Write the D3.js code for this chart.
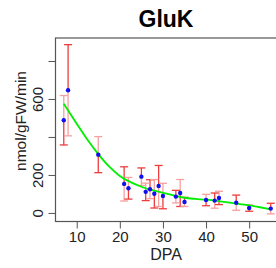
<!DOCTYPE html>
<html>
<head>
<meta charset="utf-8">
<script src="https://cdn.jsdelivr.net/npm/d3@7"></script>
<style>
  body { margin: 0; background: white; }
  svg { font-family: "Liberation Sans", Arial, sans-serif; }
</style>
</head>
<body>
<div id="chart"></div>
<script>
const width = 276;
const height = 268;

// DPA, mean activity and sd
const dpa = [7, 8, 15, 21, 22, 25, 26, 27, 28, 29, 30, 33, 34, 35, 40, 42, 43, 47, 50, 55];
const means = [488, 646, 307, 153, 130, 191, 111, 125, 101, 142, 89, 86, 105, 58, 68, 65, 79, 54, 26, 23];
const sds = [130, 240, 95, 90, 57, 46, 46, 50, 75, 108, 67, 33, 71, 24, 30, 40, 35, 40, 17, 28];

// fitted smooth curve
const fitX = [7, 10, 12.5, 15, 17.5, 20, 22.5, 25, 27.5, 30, 32.5, 35, 37.5, 40, 42.5, 45, 47.5, 50, 52.5, 55];
const fitY = [575, 470, 385, 310, 245, 195, 162, 138, 120, 106, 92, 80, 74, 70, 64, 56, 48, 40, 30, 19];

const xTicks = [10, 20, 30, 40, 50];
const yTicks = [0, 200, 400, 600, 800];
const yLabels = [0, 200, 600];

const x = d3.scaleLinear().domain([5.08, 56.92]).range([55.5, 279]);
const y = d3.scaleLinear().domain([-45, 921]).range([221.5, 38]);

const svg = d3.select("#chart").append("svg")
    .attr("width", width)
    .attr("height", height);

const axisColor = "#555";

// plot box
svg.append("rect")
    .attr("x", x.range()[0])
    .attr("y", y.range()[1])
    .attr("width", x.range()[1] - x.range()[0])
    .attr("height", y.range()[0] - y.range()[1])
    .attr("fill", "none")
    .attr("stroke", axisColor)
    .attr("stroke-width", 1.2);

// x axis
const xAxis = svg.append("g")
    .attr("transform", `translate(0, ${y.range()[0]})`)
    .call(d3.axisBottom(x).tickValues(xTicks).tickSize(7).tickPadding(3).tickSizeOuter(0));
xAxis.select(".domain").remove();
xAxis.selectAll("line").attr("stroke", axisColor);
xAxis.selectAll("text").style("font-size", "15px").attr("fill", "#222")
    .style("font-family", "Liberation Sans, Arial, sans-serif");

// y axis
const yAxis = svg.append("g")
    .attr("transform", `translate(${x.range()[0]}, 0)`)
    .call(d3.axisLeft(y).tickValues(yTicks).tickSize(7).tickFormat(d => yLabels.includes(d) ? d : ""));
yAxis.select(".domain").remove();
yAxis.selectAll("line").attr("stroke", axisColor);
yAxis.selectAll("text")
    .style("font-size", "15px").attr("fill", "#222")
    .style("font-family", "Liberation Sans, Arial, sans-serif")
    .attr("text-anchor", "middle")
    .attr("x", 0).attr("dy", 0)
    .attr("transform", "translate(-13, 0) rotate(-90)");

// title and axis labels
svg.append("text")
    .attr("x", 166).attr("y", 27)
    .attr("text-anchor", "middle")
    .style("font-size", "23px").style("font-weight", "bold")
    .text("GluK");

svg.append("text")
    .attr("x", 166).attr("y", 260)
    .attr("text-anchor", "middle")
    .style("font-size", "16px").attr("fill", "#222")
    .text("DPA");

svg.append("text")
    .attr("transform", "translate(26, 121) rotate(-90)")
    .attr("text-anchor", "middle")
    .style("font-size", "15.5px").attr("fill", "#222")
    .text("nmol/gFW/min");

// error bars, drawn as upper and lower halves
const data = dpa.map((d, i) => ({ x: d, m: means[i], s: sds[i], i }));
const red = "#ee3b3b", pink = "#f7a0a0";
const halves = [];
data.forEach(d => {
    halves.push({ x: d.x, from: d.m, to: d.m + d.s, col: d.i % 2 ? red : pink });
    halves.push({ x: d.x, from: d.m, to: d.m - d.s, col: d.i % 2 ? pink : red });
});
const eb = svg.append("g").attr("stroke-width", 1.3);
eb.selectAll(".bar").data(halves).enter().append("line")
    .attr("x1", d => x(d.x)).attr("x2", d => x(d.x))
    .attr("y1", d => y(d.from)).attr("y2", d => y(d.to))
    .attr("stroke", d => d.col);
eb.selectAll(".cap").data(halves).enter().append("line")
    .attr("x1", d => x(d.x) - 4).attr("x2", d => x(d.x) + 4)
    .attr("y1", d => y(d.to)).attr("y2", d => y(d.to))
    .attr("stroke", d => d.col);

// fitted line
svg.append("path")
    .datum(fitX.map((d, i) => [d, fitY[i]]))
    .attr("d", d3.line().x(d => x(d[0])).y(d => y(d[1])).curve(d3.curveMonotoneX))
    .attr("fill", "none")
    .attr("stroke", "#00ee00")
    .attr("stroke-width", 1.8);

// points
svg.selectAll(".pt").data(data).enter().append("circle")
    .attr("cx", d => x(d.x)).attr("cy", d => y(d.m))
    .attr("r", 2.2)
    .attr("fill", "#1010ee");
</script>
</body>
</html>
